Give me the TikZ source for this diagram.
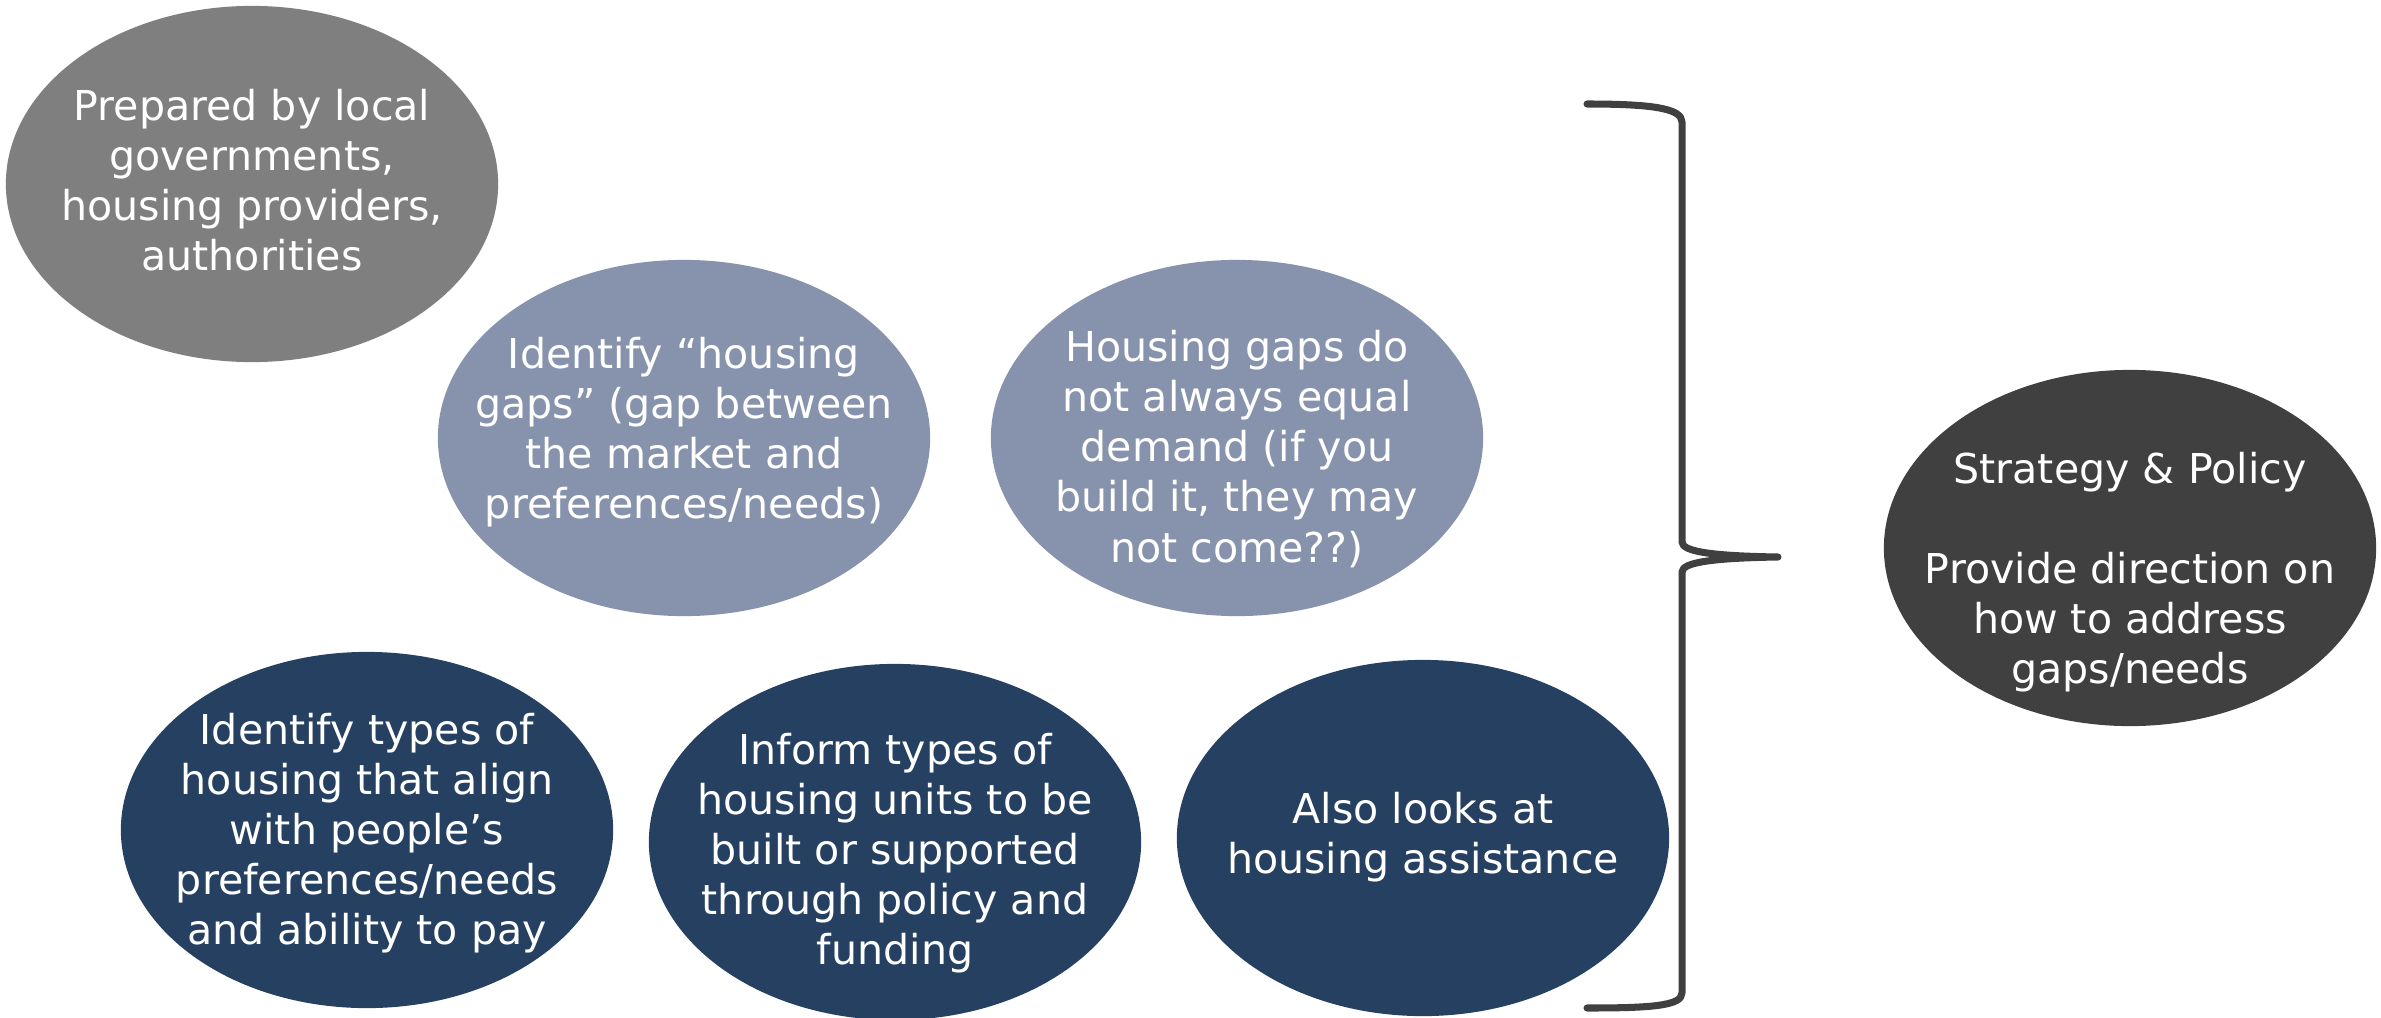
\documentclass[tikz,border=0pt]{standalone}
\usepackage{fontspec}
\setmainfont{DejaVu Sans}
\usetikzlibrary{shapes.geometric}
\definecolor{midgray}{HTML}{7F7F7F}
\definecolor{slateblue}{HTML}{8793AD}
\definecolor{navyblue}{HTML}{264061}
\definecolor{charcoal}{HTML}{404040}
\tikzset{
  bubble/.style={ellipse, draw=none, inner sep=0pt,
    minimum width=4.92cm, minimum height=3.56cm},
  bubbletext/.style={text=white, align=center, inner sep=0pt,
    font=\fontsize{11.7}{14.23}\selectfont},
  bracket/.style={draw=charcoal, line width=2pt, line join=round, line cap=round}
}
\begin{document}
\begin{tikzpicture}[x=0.01cm, y=-0.01cm]
  \useasboundingbox (0,0) rectangle (2381,1018);

  % top-left: who prepares it
  \node[bubble, fill=midgray] (prep) at (252,184) {};
  \node[bubbletext] (prept) at (252,180) {Prepared by local\\governments,\\housing providers,\\authorities};

  % middle row: housing gaps
  \node[bubble, fill=slateblue] (gaps) at (684,438) {};
  \node[bubbletext] (gapst) at (684,432) {Identify “housing\\gaps” (gap between\\the market and\\preferences/needs)};
  \node[bubble, fill=slateblue] (demand) at (1237,438) {};
  \node[bubbletext] (demandt) at (1237,449) {Housing gaps do\\not always equal\\demand (if you\\build it, they may\\not come??)};

  % bottom row
  \node[bubble, fill=navyblue] (types) at (367,830) {};
  \node[bubbletext] (typest) at (367,833) {Identify types of\\housing that align\\with people’s\\preferences/needs\\and ability to pay};
  \node[bubble, fill=navyblue] (units) at (895,842) {};
  \node[bubbletext] (unitst) at (895,853) {Inform types of\\housing units to be\\built or supported\\through policy and\\funding};
  \node[bubble, fill=navyblue] (assist) at (1423,838) {};
  \node[bubbletext] (assistt) at (1423,837) {Also looks at\\housing assistance};

  % result
  \node[bubble, fill=charcoal] (strategy) at (2130,548) {};
  \node[bubbletext] (strategyt) at (2130,572) {Strategy \& Policy\\[0.5cm]Provide direction on\\how to address\\gaps/needs};

  % right-hand brace gathering the points
  \coordinate (btop) at (1587,104);
  \coordinate (bup) at (1682,122);
  \coordinate (bmidA) at (1682,542);
  \coordinate (btip) at (1778,557);
  \coordinate (bmidB) at (1682,572);
  \coordinate (blow) at (1682,993);
  \coordinate (bbot) at (1587,1008);
  \draw[bracket] (btop) .. controls (1650,104) and (1682,108) .. (bup)
    -- (bmidA) .. controls (1682,552) and (1715,556) .. (btip)
    .. controls (1715,558) and (1682,562) .. (bmidB)
    -- (blow) .. controls (1682,1006) and (1650,1008) .. (bbot);
\end{tikzpicture}
\end{document}
